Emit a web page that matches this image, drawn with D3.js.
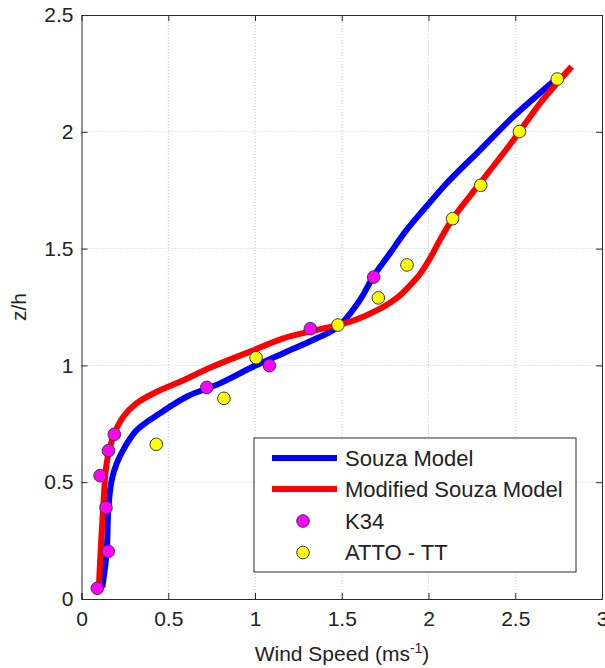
<!DOCTYPE html>
<html>
<head>
<meta charset="utf-8">
<script src="https://cdn.jsdelivr.net/npm/d3@7"></script>
<style>
  body { margin: 0; background: #fff; }
  text { font-family: "Liberation Sans", Arial, sans-serif; fill: #222; }
</style>
</head>
<body>
<div id="chart"></div>
<script>
// Souza model (blue)
const souzaX = [0.12, 0.145, 0.155, 0.174, 0.203, 0.251, 0.318, 0.452, 0.606, 0.798, 0.971, 1.163, 1.356, 1.48, 1.605, 1.682, 1.778, 1.874, 1.97, 2.105, 2.297, 2.489, 2.719, 2.75];
const souzaY = [0.05, 0.2, 0.39, 0.509, 0.581, 0.652, 0.723, 0.795, 0.866, 0.923, 0.988, 1.052, 1.116, 1.166, 1.28, 1.38, 1.48, 1.58, 1.665, 1.78, 1.922, 2.065, 2.215, 2.235];

// Modified Souza model (red)
const modX = [0.10, 0.11, 0.125, 0.145, 0.183, 0.241, 0.318, 0.433, 0.568, 0.75, 0.971, 1.163, 1.356, 1.548, 1.74, 1.82, 1.89, 1.95, 2.01, 2.066, 2.143, 2.297, 2.489, 2.643, 2.825];
const modY = [0.05, 0.2, 0.39, 0.581, 0.695, 0.78, 0.838, 0.887, 0.93, 0.993, 1.059, 1.116, 1.152, 1.187, 1.251, 1.29, 1.34, 1.39, 1.46, 1.537, 1.632, 1.78, 1.964, 2.122, 2.279];

// K34 observations (magenta)
const k34X = [0.091, 0.154, 0.141, 0.107, 0.155, 0.189, 0.722, 1.083, 1.319, 1.684];
const k34Y = [0.046, 0.204, 0.391, 0.528, 0.635, 0.705, 0.906, 0.999, 1.157, 1.378];

// ATTO - TT observations (yellow)
const attoX = [0.431, 0.821, 1.006, 1.478, 1.711, 1.876, 2.139, 2.301, 2.524, 2.742];
const attoY = [0.662, 0.859, 1.033, 1.173, 1.289, 1.430, 1.628, 1.771, 2.001, 2.226];

const xTicks = [0, 0.5, 1, 1.5, 2, 2.5, 3];
const yTicks = [0, 0.5, 1, 1.5, 2, 2.5];

const legendNames = ["Souza Model", "Modified Souza Model", "K34", "ATTO - TT"];

const width = 605, height = 668;
const margin = { top: 15, right: 3, bottom: 69, left: 81.5 };

const svg = d3.select("#chart").append("svg")
    .attr("width", width)
    .attr("height", height);

const x = d3.scaleLinear().domain([0, 3]).range([margin.left, width - margin.right]);
const y = d3.scaleLinear().domain([0, 2.5]).range([height - margin.bottom, margin.top]);

// grid lines
const grid = svg.append("g");
grid.selectAll(".vg").data(xTicks.slice(1, -1)).join("line")
    .attr("x1", d => x(d)).attr("x2", d => x(d))
    .attr("y1", y(0)).attr("y2", y(2.5))
    .attr("stroke", "#c8c8c8").attr("stroke-dasharray", "1,2");
grid.selectAll(".hg").data(yTicks.slice(1, -1)).join("line")
    .attr("y1", d => y(d)).attr("y2", d => y(d))
    .attr("x1", x(0)).attr("x2", x(3))
    .attr("stroke", "#c8c8c8").attr("stroke-dasharray", "1,2");

// axes, ticks pointing inward on all four sides
const fmt = d => String(d);
const styleAxis = g => {
    g.select(".domain").attr("stroke", "#2a2a2a");
    g.selectAll(".tick line").attr("stroke", "#2a2a2a");
    g.selectAll("text").attr("font-size", "21px").attr("fill", "#222")
        .attr("font-family", "Liberation Sans, Arial, sans-serif");
};
svg.append("g").attr("transform", `translate(0,${y(0)})`)
    .call(d3.axisBottom(x).tickValues(xTicks).tickFormat(fmt).tickSize(-6).tickPadding(12))
    .call(styleAxis);
svg.append("g").attr("transform", `translate(${x(0)},0)`)
    .call(d3.axisLeft(y).tickValues(yTicks).tickFormat(fmt).tickSize(-6).tickPadding(8))
    .call(styleAxis);
svg.append("g").attr("transform", `translate(0,${y(2.5)})`)
    .call(d3.axisTop(x).tickValues(xTicks).tickFormat("").tickSize(-6).tickSizeOuter(0))
    .call(styleAxis);
svg.append("g").attr("transform", `translate(${x(3)},0)`)
    .call(d3.axisRight(y).tickValues(yTicks).tickFormat("").tickSize(-6).tickSizeOuter(0))
    .call(styleAxis);

// model curves
const line = d3.line()
    .x(d => x(d[0]))
    .y(d => y(d[1]))
    .curve(d3.curveCatmullRom.alpha(0.5));

svg.append("path")
    .datum(d3.zip(souzaX, souzaY))
    .attr("d", line)
    .attr("fill", "none").attr("stroke", "#0000ff").attr("stroke-width", 6);

svg.append("path")
    .datum(d3.zip(modX, modY))
    .attr("d", line)
    .attr("fill", "none").attr("stroke", "#ff0000").attr("stroke-width", 6);

// observations
svg.append("g").selectAll("circle")
    .data(d3.zip(k34X, k34Y)).join("circle")
    .attr("cx", d => x(d[0])).attr("cy", d => y(d[1])).attr("r", 6.3)
    .attr("fill", "#ff00ff").attr("stroke", "#3a3a3a").attr("stroke-width", 1);

svg.append("g").selectAll("circle")
    .data(d3.zip(attoX, attoY)).join("circle")
    .attr("cx", d => x(d[0])).attr("cy", d => y(d[1])).attr("r", 6.3)
    .attr("fill", "#ffff00").attr("stroke", "#3a3a3a").attr("stroke-width", 1);

// legend
const legend = svg.append("g").attr("transform", "translate(254,438)");
legend.append("rect")
    .attr("width", 322).attr("height", 134)
    .attr("fill", "#fff").attr("stroke", "#2a2a2a");

const rowY = [20, 51, 83, 114.5];
const lineColors = ["#0000ff", "#ff0000"];
const dotColors = ["#ff00ff", "#ffff00"];

legendNames.forEach((name, i) => {
    if (i < 2) {
        legend.append("line")
            .attr("x1", 18).attr("x2", 83)
            .attr("y1", rowY[i]).attr("y2", rowY[i])
            .attr("stroke", lineColors[i]).attr("stroke-width", 6);
    } else {
        legend.append("circle")
            .attr("cx", 49).attr("cy", rowY[i]).attr("r", 6.3)
            .attr("fill", dotColors[i - 2]).attr("stroke", "#3a3a3a");
    }
    legend.append("text")
        .attr("x", 91).attr("y", rowY[i])
        .attr("dy", "0.36em")
        .attr("font-size", "22px")
        .text(name);
});

// axis titles
const xLabel = svg.append("text")
    .attr("x", 342).attr("y", 660.5)
    .attr("text-anchor", "middle")
    .attr("font-size", "21px");
xLabel.append("tspan").text("Wind Speed (ms");
xLabel.append("tspan").attr("dy", "-8").attr("font-size", "14px").text("-1");
xLabel.append("tspan").attr("dy", "8").text(")");

svg.append("text")
    .attr("transform", `translate(26,${(y(0) + y(2.5)) / 2}) rotate(-90)`)
    .attr("text-anchor", "middle")
    .attr("font-size", "21px")
    .text("z/h");
</script>
</body>
</html>
